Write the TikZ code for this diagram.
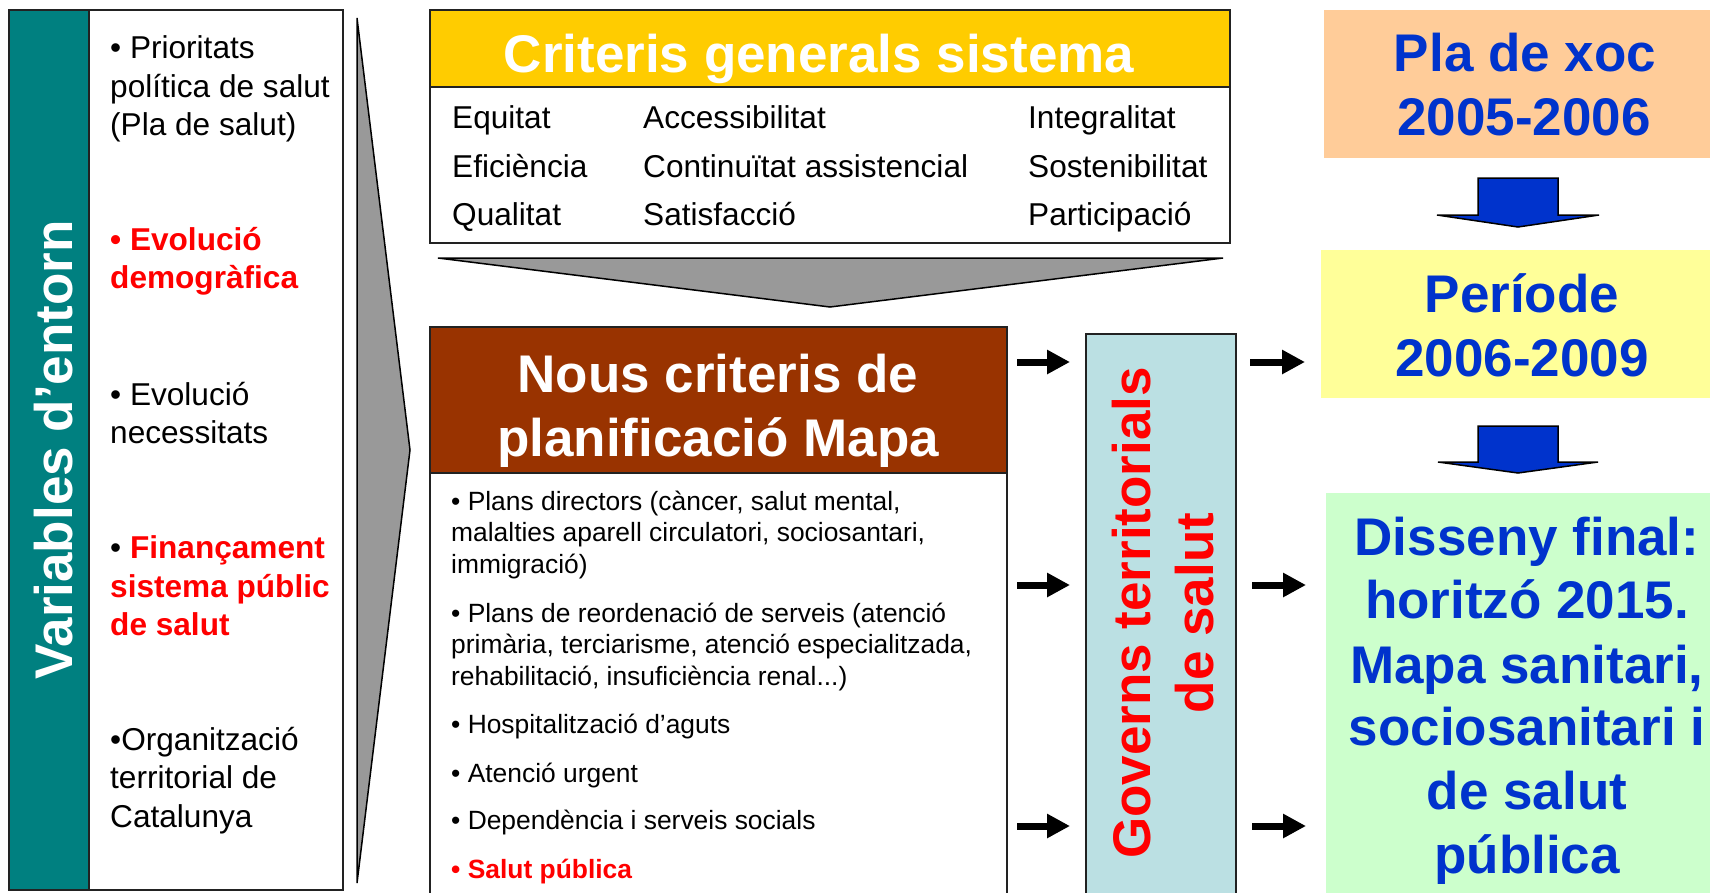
\documentclass[tikz,border=0pt]{standalone}
\usepackage{fontspec}
\setmainfont{Liberation Sans}
\usetikzlibrary{arrows.meta}
\definecolor{tealc}{HTML}{008080}
\definecolor{goldc}{HTML}{FFCC00}
\definecolor{brownc}{HTML}{993300}
\definecolor{govc}{HTML}{BBE0E3}
\definecolor{peachc}{HTML}{FFCC99}
\definecolor{lyellowc}{HTML}{FFFF99}
\definecolor{lgreenc}{HTML}{CCFFCC}
\definecolor{bluec}{HTML}{0033CC}
\definecolor{redc}{HTML}{FF0000}
\definecolor{grayc}{HTML}{999999}
\definecolor{edgec}{HTML}{222222}
\begin{document}
\begin{tikzpicture}[x=1pt,y=-1pt,
  boxnode/.style={anchor=north west, inner sep=0pt, outer sep=0pt, line width=1.5pt},
  edged/.style={draw=edgec},
  ltxt/.style={anchor=base west, inner sep=0pt, font=\fontsize{31.6}{38}\selectfont},
  ltxtr/.style={anchor=base west, inner sep=0pt, text=redc, font=\fontsize{31.6}{38}\selectfont\bfseries},
  ntxt/.style={anchor=base west, inner sep=0pt, font=\fontsize{26.4}{31.5}\selectfont},
  bigw/.style={anchor=base, inner sep=0pt, text=white, font=\fontsize{53}{63}\selectfont\bfseries},
  bigb/.style={anchor=base, inner sep=0pt, text=bluec, font=\fontsize{53}{63}\selectfont\bfseries},
  blk/.style={line width=7pt, draw=black, -{Triangle[length=23pt,width=23pt]}},
  gtri/.style={fill=grayc, draw=black, line width=1.5pt, line join=miter},
  barrow/.style={fill=bluec, draw=black, line width=1.5pt}
]
\useasboundingbox (0,0) rectangle (1710,892);
\fill[white] (0,0) rectangle (1710,892);

% left column
\node[boxnode, edged, fill=tealc, minimum width=80pt, minimum height=880pt] (var) at (9,10) {};
\node[boxnode, edged, fill=white, minimum width=254pt, minimum height=880pt] (vlist) at (89,10) {};
\node[anchor=base, inner sep=0pt, rotate=90, text=white, font=\fontsize{53}{63}\selectfont\bfseries] (vartxt) at (72,450) {Variables d’entorn};

\node[ltxt] (v1a) at (110,58) {• Prioritats};
\node[ltxt] (v1b) at (110,97) {política de salut};
\node[ltxt] (v1c) at (110,135) {(Pla de salut)};
\node[ltxtr] (v2a) at (110,250) {• Evolució};
\node[ltxtr] (v2b) at (110,288) {demogràfica};
\node[ltxt] (v3a) at (110,405) {• Evolució};
\node[ltxt] (v3b) at (110,443) {necessitats};
\node[ltxt] (v4a) at (110,558) {• \textcolor{redc}{\bfseries Finançament}};
\node[ltxtr] (v4b) at (110,597) {sistema públic};
\node[ltxtr] (v4c) at (110,635) {de salut};
\node[ltxt] (v5a) at (110,750) {•Organització};
\node[ltxt] (v5b) at (110,788) {territorial de};
\node[ltxt] (v5c) at (110,827) {Catalunya};

% gray triangles
\draw[gtri] (357,18) -- (410,450) -- (357,883) -- cycle;
\draw[gtri] (438,258) -- (1223,258) -- (830,307) -- cycle;

% criteris generals
\node[boxnode, edged, fill=goldc, minimum width=800pt, minimum height=77pt] (critH) at (430,10) {};
\node[boxnode, edged, fill=white, minimum width=800pt, minimum height=156pt] (critB) at (430,87) {};
\node[bigw] (crittxt) at (819,72) {Criteris generals sistema};
\node[ltxt] (c11) at (452,128) {Equitat};
\node[ltxt] (c12) at (452,177) {Eficiència};
\node[ltxt] (c13) at (452,225) {Qualitat};
\node[ltxt] (c21) at (643,128) {Accessibilitat};
\node[ltxt] (c22) at (643,177) {Continuïtat assistencial};
\node[ltxt] (c23) at (643,225) {Satisfacció};
\node[ltxt] (c31) at (1028,128) {Integralitat};
\node[ltxt] (c32) at (1028,177) {Sostenibilitat};
\node[ltxt] (c33) at (1028,225) {Participació};

% nous criteris
\node[boxnode, edged, fill=brownc, minimum width=577pt, minimum height=146pt] (nousH) at (430,327) {};
\node[boxnode, edged, fill=white, minimum width=577pt, minimum height=430pt] (nousB) at (430,473) {};
\node[bigw] (nt1) at (718,392) {Nous criteris de};
\node[bigw] (nt2) at (718,456) {planificació Mapa};
\node[ntxt] (n1a) at (451,510) {• Plans directors (càncer, salut mental,};
\node[ntxt] (n1b) at (451,541) {malalties aparell circulatori, sociosantari,};
\node[ntxt] (n1c) at (451,573) {immigració)};
\node[ntxt] (n2a) at (451,622) {• Plans de reordenació de serveis (atenció};
\node[ntxt] (n2b) at (451,653) {primària, terciarisme, atenció especialitzada,};
\node[ntxt] (n2c) at (451,685) {rehabilitació, insuficiència renal...)};
\node[ntxt] (n3) at (451,733) {• Hospitalització d’aguts};
\node[ntxt] (n4) at (451,782) {• Atenció urgent};
\node[ntxt] (n5) at (451,829) {• Dependència i serveis socials};
\node[ntxt, text=redc, font=\fontsize{26.4}{31.5}\selectfont\bfseries] (n6) at (451,878) {• Salut pública};

% governs
\node[boxnode, edged, fill=govc, minimum width=150pt, minimum height=570pt] (gov) at (1086,334) {};
\node[rotate=90, inner sep=0pt, align=center, text=redc, font=\fontsize{53}{63}\selectfont\bfseries] (govtxt) at (1163,613) {Governs territorials\\de salut};

% right column
\node[boxnode, fill=peachc, minimum width=391pt, minimum height=148pt] (pla) at (1324,10) {};
\node[bigb] (pla1) at (1525,71) {Pla de xoc};
\node[bigb] (pla2) at (1524,135) {2005-2006};
\node[boxnode, fill=lyellowc, minimum width=394pt, minimum height=148pt] (per) at (1321,250) {};
\node[bigb] (per1) at (1522,312) {Període};
\node[bigb] (per2) at (1522,376) {2006-2009};
\node[boxnode, fill=lgreenc, minimum width=389pt, minimum height=410pt] (dis) at (1326,493) {};
\node[bigb] (d1) at (1527,555) {Disseny final:};
\node[bigb] (d2) at (1527,618) {horitzó 2015.};
\node[bigb] (d3) at (1527,683) {Mapa sanitari,};
\node[bigb] (d4) at (1527,745) {sociosanitari i};
\node[bigb] (d5) at (1527,809) {de salut};
\node[bigb] (d6) at (1527,873) {pública};

% blue down arrows
\draw[barrow] (1478,178) -- (1558,178) -- (1558,215) -- (1599,215) -- (1518,227) -- (1437,215) -- (1478,215) -- cycle;
\draw[barrow] (1478,426) -- (1558,426) -- (1558,462) -- (1598,462) -- (1518,473) -- (1438,462) -- (1478,462) -- cycle;

% black arrows
\coordinate (r1) at (0,362);
\coordinate (r2) at (0,585);
\coordinate (r3) at (0,826);
\draw[blk, shorten <=10pt, shorten >=16pt] (nousH.east |- r1) -- (gov.west |- r1);
\draw[blk, shorten <=10pt, shorten >=16pt] (nousB.east |- r2) -- (gov.west |- r2);
\draw[blk, shorten <=10pt, shorten >=16pt] (nousB.east |- r3) -- (gov.west |- r3);
\draw[blk, shorten <=14pt, shorten >=16pt] (gov.east |- r1) -- (per.west |- r1);
\draw[blk, shorten <=16pt, shorten >=20pt] (gov.east |- r2) -- (dis.west |- r2);
\draw[blk, shorten <=16pt, shorten >=20pt] (gov.east |- r3) -- (dis.west |- r3);
\end{tikzpicture}
\end{document}
